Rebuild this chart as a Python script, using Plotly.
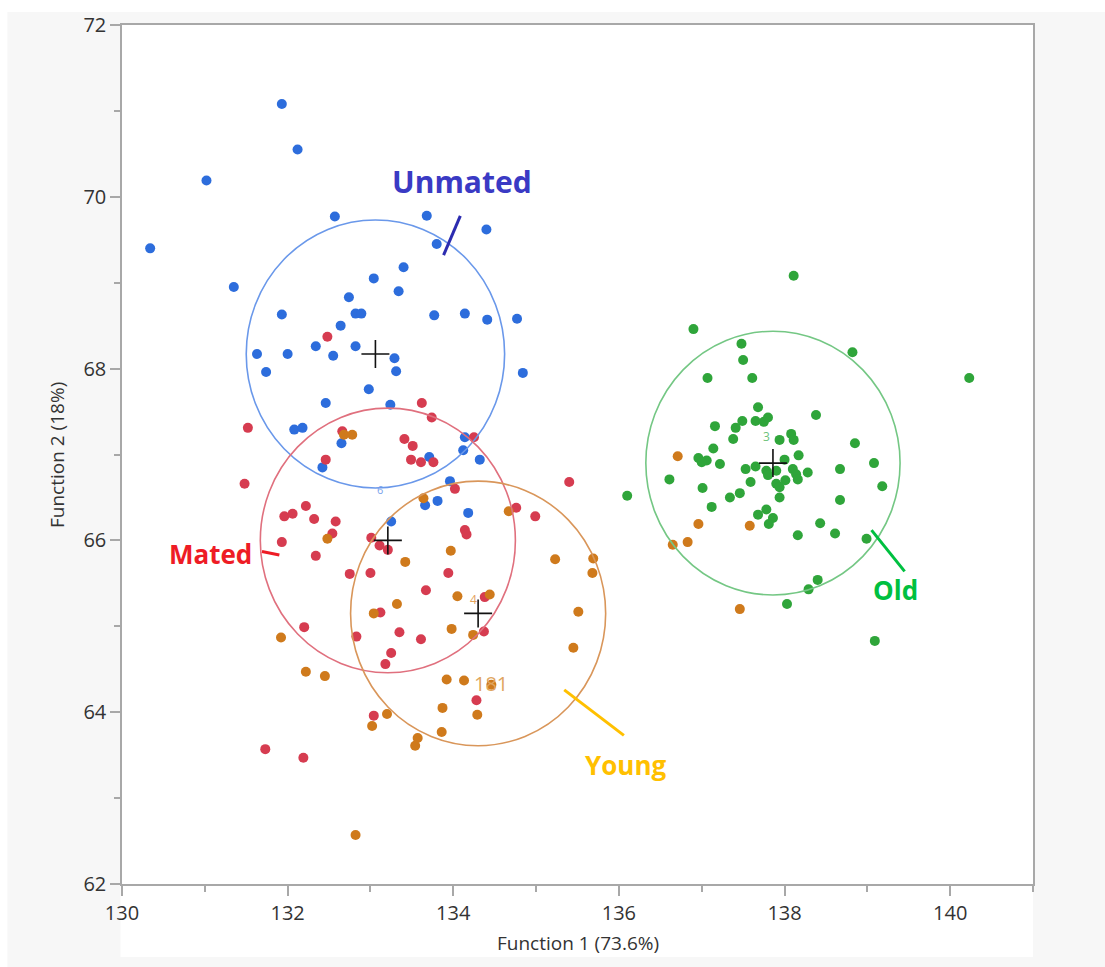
import plotly.graph_objects as go

# ---------------- data ----------------
unmated_x = [131.93, 132.12, 131.02, 130.34, 132.57, 133.68, 134.40, 133.80, 131.35, 133.40,
             133.04, 133.34, 132.74, 131.93, 132.82, 132.89, 133.77, 134.14, 134.41, 134.77,
             132.64, 131.63, 132.00, 132.34, 132.55, 132.82, 133.29, 133.31, 131.74, 134.84,
             132.98, 132.46, 133.24, 132.08, 132.18, 132.65, 134.14, 134.12, 134.32, 133.71,
             132.42, 133.96, 133.66, 133.81, 134.18, 133.25]
unmated_y = [71.08, 70.55, 70.19, 69.40, 69.77, 69.78, 69.62, 69.45, 68.95, 69.18,
             69.05, 68.90, 68.83, 68.63, 68.64, 68.64, 68.62, 68.64, 68.57, 68.58,
             68.50, 68.17, 68.17, 68.26, 68.15, 68.26, 68.12, 67.97, 67.96, 67.95,
             67.76, 67.60, 67.58, 67.29, 67.31, 67.13, 67.20, 67.05, 66.94, 66.97,
             66.85, 66.69, 66.41, 66.46, 66.32, 66.22]

mated_x = [132.48, 133.62, 133.74, 131.52, 132.66, 133.41, 133.51, 134.25, 133.49, 133.61,
           133.76, 132.46, 131.48, 134.02, 135.40, 134.76, 134.99, 132.22, 131.96, 132.06,
           132.32, 132.58, 132.54, 131.93, 132.34, 134.14, 134.16, 133.01, 133.11, 133.21,
           132.75, 133.00, 133.94, 133.67, 134.38, 133.12, 133.35, 134.37, 132.83, 133.61,
           132.20, 133.25, 133.18, 134.28, 133.04, 131.73, 132.19]
mated_y = [68.37, 67.60, 67.43, 67.31, 67.27, 67.18, 67.10, 67.20, 66.94, 66.91,
           66.91, 66.94, 66.66, 66.60, 66.68, 66.38, 66.28, 66.40, 66.28, 66.31,
           66.25, 66.22, 66.08, 65.98, 65.82, 66.12, 66.07, 66.03, 65.94, 65.89,
           65.61, 65.62, 65.62, 65.42, 65.34, 65.16, 64.93, 64.94, 64.88, 64.85,
           64.99, 64.69, 64.56, 64.14, 63.96, 63.57, 63.47]

young_x = [132.68, 132.78, 133.64, 134.67, 132.48, 133.97, 133.42, 135.23, 135.69, 135.68,
           134.05, 134.44, 133.32, 133.04, 135.51, 133.98, 134.24, 131.92, 135.45, 132.22,
           132.45, 133.92, 134.13, 134.46, 133.87, 134.29, 133.20, 133.02, 133.86, 133.57,
           133.54, 132.82, 136.71, 136.96, 137.58, 136.83, 136.65, 137.46]
young_y = [67.23, 67.23, 66.49, 66.34, 66.02, 65.88, 65.75, 65.78, 65.79, 65.62,
           65.35, 65.37, 65.26, 65.15, 65.17, 64.97, 64.90, 64.87, 64.75, 64.47,
           64.42, 64.38, 64.37, 64.32, 64.05, 63.97, 63.98, 63.84, 63.77, 63.70,
           63.61, 62.57, 66.98, 66.19, 66.17, 65.98, 65.95, 65.20]

old_x = [138.11, 136.90, 137.48, 137.50, 138.82, 137.07, 137.61, 140.23, 137.68, 138.38,
         137.16, 137.49, 137.41, 137.65, 137.75, 137.80, 137.38, 137.94, 138.08, 138.11,
         138.85, 137.14, 136.96, 137.06, 137.00, 137.22, 137.53, 137.65, 138.00, 138.17,
         137.78, 137.80, 137.90, 138.10, 138.14, 138.16, 138.28, 138.01, 137.90, 137.94,
         137.59, 136.61, 137.01, 136.10, 137.46, 137.34, 137.94, 138.67, 139.08, 139.18,
         138.67, 137.12, 137.78, 137.68, 137.86, 137.81, 138.43, 138.61, 138.16, 138.99,
         138.40, 138.29, 138.03, 139.09]
old_y = [69.08, 68.46, 68.29, 68.10, 68.19, 67.89, 67.89, 67.89, 67.55, 67.46,
         67.33, 67.39, 67.31, 67.39, 67.38, 67.43, 67.18, 67.17, 67.24, 67.17,
         67.13, 67.07, 66.96, 66.93, 66.91, 66.89, 66.83, 66.86, 66.94, 66.99,
         66.81, 66.76, 66.81, 66.83, 66.77, 66.71, 66.79, 66.70, 66.66, 66.62,
         66.68, 66.71, 66.61, 66.52, 66.55, 66.50, 66.50, 66.83, 66.90, 66.63,
         66.47, 66.39, 66.36, 66.30, 66.26, 66.19, 66.20, 66.08, 66.06, 66.02,
         65.54, 65.43, 65.26, 64.83]

groups = ["Unmated", "Mated", "Young", "Old"]
center_x = [133.06, 133.21, 134.30, 137.86]
center_y = [68.17, 66.00, 65.15, 66.90]
radius = [1.56, 1.54, 1.54, 1.535]

dot_colors = ["#2d6ddc", "#d63c50", "#cf7a1c", "#2fa53a"]
ring_colors = ["#6a98ea", "#e0707e", "#d9965a", "#74c784"]

# group label annotations: text, label centre, leader line ends
label_x = [134.11, 131.07, 136.08, 139.34]
label_y = [70.18, 65.84, 63.38, 65.42]
label_colors = ["#3a3ac4", "#ee1c25", "#ffc000", "#00c040"]
line_colors = ["#2c2cb0", "#ee1c25", "#ffc000", "#00c040"]
label_sizes = [30, 26, 26, 26]
lead_x0 = [134.085, 131.69, 135.34, 139.05]
lead_y0 = [69.777, 65.87, 64.26, 66.12]
lead_x1 = [133.883, 131.90, 136.06, 139.45]
lead_y1 = [69.32, 65.83, 63.73, 65.64]

# small row labels
row_label_text = ["6", "4", "181", "3"]
row_label_x = [133.12, 134.25, 134.46, 137.78]
row_label_y = [66.59, 65.31, 64.33, 67.21]
row_label_colors = ["#7aa3ec", "#e3a25c", "#e0a560", "#6cc27a"]
row_label_sizes = [11, 12, 20, 12]

xs = [unmated_x, mated_x, young_x, old_x]
ys = [unmated_y, mated_y, young_y, old_y]

fig = go.Figure()

for g, x, y, c in zip(groups, xs, ys, dot_colors):
    fig.add_trace(go.Scatter(x=x, y=y, mode="markers", name=g,
                             marker=dict(size=10, color=c, line=dict(width=0))))

fig.add_trace(go.Scatter(x=center_x, y=center_y, mode="markers", name="means",
                         marker=dict(symbol="cross-thin", size=20, color="#111111",
                                     line=dict(width=1.6, color="#111111"))))

shapes = []
for cx, cy, r, col in zip(center_x, center_y, radius, ring_colors):
    shapes.append(dict(type="circle", xref="x", yref="y", x0=cx - r, x1=cx + r,
                       y0=cy - r, y1=cy + r, line=dict(color=col, width=1.6), layer="above"))
for a, b, c_, d, col in zip(lead_x0, lead_y0, lead_x1, lead_y1, line_colors):
    shapes.append(dict(type="line", xref="x", yref="y", x0=a, y0=b, x1=c_, y1=d,
                       line=dict(color=col, width=3)))

# background pieces (outside plot area)
shapes.append(dict(type="rect", xref="paper", yref="paper", x0=-0.2, x1=1.2, y0=1.015, y1=1.1,
                   fillcolor="white", line=dict(width=0), layer="below"))
shapes.append(dict(type="rect", xref="paper", yref="paper", x0=-0.2, x1=-0.1258, y0=-0.2, y1=1.1,
                   fillcolor="white", line=dict(width=0), layer="below"))
shapes.append(dict(type="rect", xref="paper", yref="paper", x0=-0.0016, x1=1.0, y0=-0.085, y1=0,
                   fillcolor="white", line=dict(width=0), layer="below"))

annotations = []
for t, x, y, col, s in zip(groups, label_x, label_y, label_colors, label_sizes):
    annotations.append(dict(text="<b>" + t + "</b>", x=x, y=y, xref="x", yref="y",
                            showarrow=False, font=dict(family="Open Sans", size=s, color=col),
                            xanchor="center", yanchor="middle"))
for t, x, y, col, s in zip(row_label_text, row_label_x, row_label_y, row_label_colors, row_label_sizes):
    annotations.append(dict(text=t, x=x, y=y, xref="x", yref="y", showarrow=False,
                            font=dict(family="Open Sans", size=s, color=col)))
annotations.append(dict(text="Function 1 (73.6%)", x=0.5, y=-0.0687, xref="paper", yref="paper",
                        showarrow=False, xanchor="center", yanchor="middle",
                        font=dict(family="Open Sans", size=19, color="#333333")))
annotations.append(dict(text="Function 2 (18%)", x=-0.0719, y=0.5, xref="paper", yref="paper",
                        showarrow=False, textangle=-90, xanchor="center", yanchor="middle",
                        font=dict(family="Open Sans", size=19, color="#333333")))

axis_common = dict(showgrid=False, zeroline=False, showline=True, linecolor="#a8a8a8",
                   linewidth=1.5, mirror=True, ticks="outside", ticklen=10, tickwidth=1.5,
                   tickcolor="#a8a8a8", tickfont=dict(family="Open Sans", size=20, color="#333333"),
                   tickmode="linear", dtick=2,
                   minor=dict(ticks="outside", ticklen=6, tickwidth=1.5, tickcolor="#a8a8a8",
                              dtick=1, showgrid=False))

fig.update_layout(
    width=1105, height=967,
    margin=dict(l=122, r=72, t=25, b=83),
    paper_bgcolor="#f7f7f7", plot_bgcolor="white",
    showlegend=False,
    shapes=shapes, annotations=annotations,
    xaxis=dict(range=[130, 141], tick0=130, **axis_common),
    yaxis=dict(range=[62, 72], tick0=62, **axis_common),
)

fig.write_html("out.html")
